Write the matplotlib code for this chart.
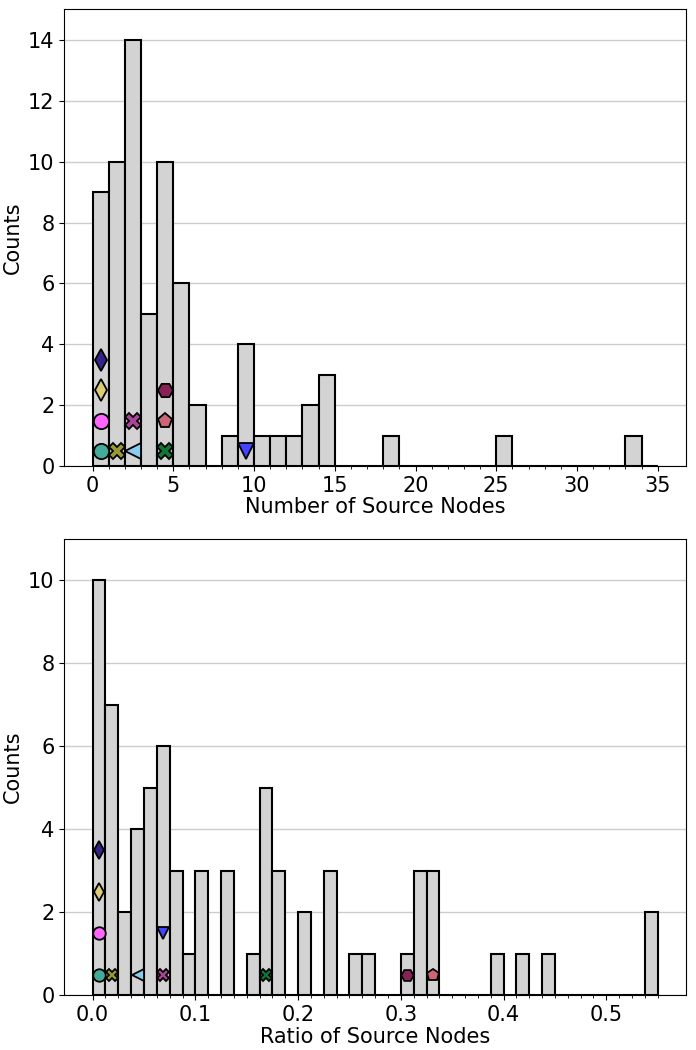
import numpy as np
import matplotlib
matplotlib.use("Agg")
import matplotlib.pyplot as plt

plt.rcParams['font.size'] = 15

# histogram counts, number of source nodes (bins of width 1, 0..35)
n_edges = np.arange(0, 36, 1)
n_counts = [9, 10, 14, 5, 10, 6, 2, 0, 1, 4, 1, 1, 1, 2, 3, 0, 0, 0, 1, 0,
            0, 0, 0, 0, 0, 1, 0, 0, 0, 0, 0, 0, 0, 1, 0]

# histogram counts, ratio of source nodes (bins of width 0.0125, 0..0.55)
r_edges = np.linspace(0, 0.55, 45)
r_counts = [10, 7, 2, 4, 5, 6, 3, 1, 3, 0, 3, 0, 1, 5, 3, 0, 2, 0, 3, 0,
            1, 1, 0, 0, 1, 3, 3, 0, 0, 0, 0, 1, 0, 1, 0, 1, 0, 0, 0, 0,
            0, 0, 0, 2]

# highlighted items (stacked at their bin, in this order)
item_colors = ['#44AA99', '#999933', '#88CCEE', '#AA4499', '#117733', '#4444FF',
               '#FF66FF', '#CC6677', '#DDCC77', '#882255', '#332288']
item_markers = ['o', 'X', '<', 'X', 'X', 'v', 'o', 'p', 'd', 'H', 'd']
item_nodes = [0, 1, 2, 2, 4, 9, 0, 4, 0, 4, 0]
item_ratio = [0.005, 0.018, 0.043, 0.068, 0.169, 0.069, 0.006, 0.331, 0.004, 0.307, 0.003]


def draw(ax, edges, counts, values, xlabel, ms):
    centers = (edges[:-1] + edges[1:]) / 2
    ax.hist(centers, bins=edges, weights=counts, color='lightgray',
            edgecolor='black', linewidth=1.5, zorder=2)
    # markers at bin centre, stacked upwards
    stack = {}
    for v, c, m in zip(values, item_colors, item_markers):
        k = np.digitize(v, edges) - 1
        h = stack.get(k, 0)
        stack[k] = h + 1
        ax.plot(centers[k], h + 0.5, marker=m, color=c, markeredgecolor='black',
                markeredgewidth=1.3, markersize=ms, linestyle='none', zorder=3)
    ax.set_ylim(0, max(counts) + 1)
    ax.set_xticks(edges, minor=True)
    ax.yaxis.grid(True, color='#cccccc', linewidth=1)
    ax.set_axisbelow(True)
    ax.set_xlabel(xlabel, labelpad=1)
    ax.set_ylabel('Counts')


fig = plt.figure(figsize=(6.96, 10.5), dpi=100)
ax1 = fig.add_axes([0.0925, 0.556, 0.893, 0.435])
ax2 = fig.add_axes([0.0925, 0.052, 0.893, 0.435])

draw(ax1, n_edges, n_counts, item_nodes, 'Number of Source Nodes', 11)
draw(ax2, r_edges, r_counts, item_ratio, 'Ratio of Source Nodes', 9)

fig.savefig('out.png', dpi=100)
